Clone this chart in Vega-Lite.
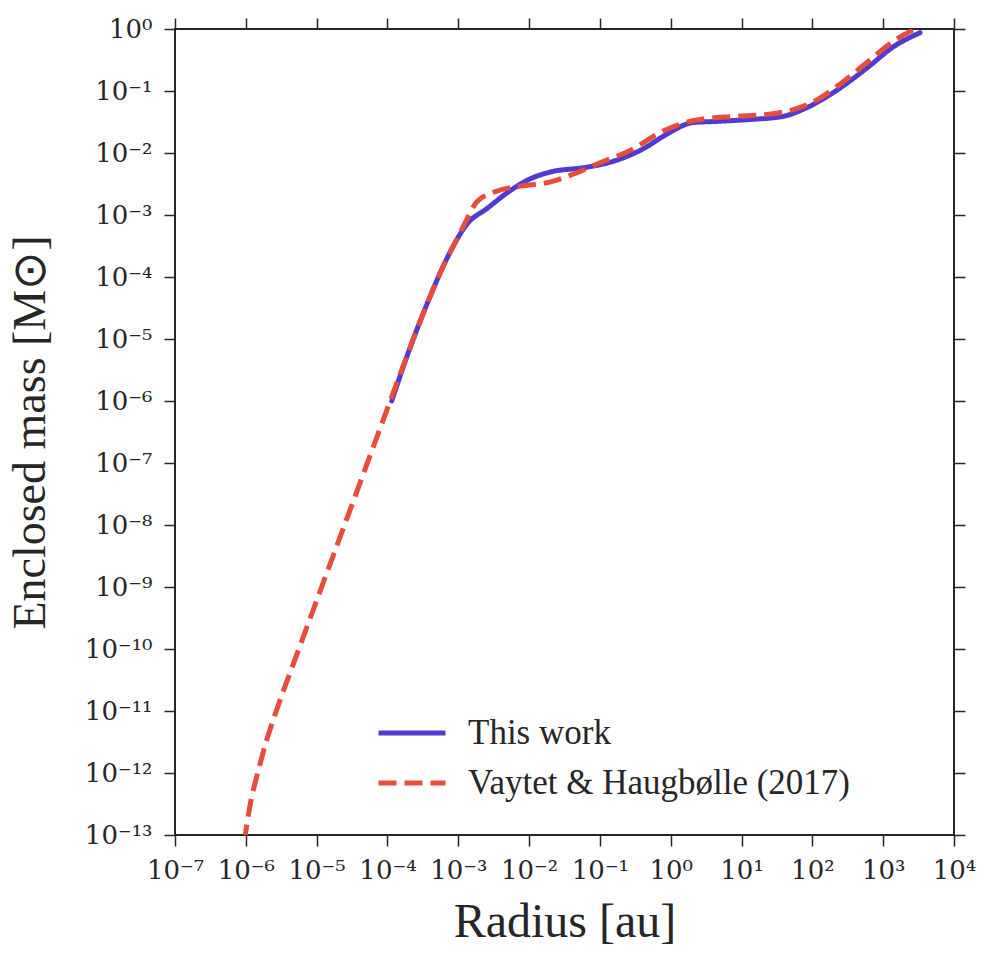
{
  "$schema": "https://vega.github.io/schema/vega-lite/v6.json",
  "width": 779,
  "height": 806,
  "autosize": "none",
  "padding": {"left": 175, "top": 29, "right": 42, "bottom": 127},
  "background": "white",
  "config": {
    "font": "Liberation Serif",
    "view": {"stroke": "#262626", "strokeWidth": 2},
    "axis": {
      "grid": false,
      "domain": false,
      "tickColor": "#262626",
      "tickWidth": 1.5,
      "tickSize": 11,
      "labelColor": "#262626",
      "titleColor": "#262626",
      "labelFont": "DejaVu Serif",
      "titleFont": "Liberation Serif",
      "labelFontSize": 26,
      "titleFontSize": 48,
      "titleFontWeight": "normal",
      "labelOverlap": false,
      "labelFlush": false,
      "labelBound": false
    }
  },
  "data": {
    "values": [
      {"series": "This work", "r": 1.148e-4, "m": 1e-6},
      {"series": "This work", "r": 2.042e-4, "m": 6.761e-6},
      {"series": "This work", "r": 3.981e-4, "m": 4.786e-5},
      {"series": "This work", "r": 6.166e-4, "m": 1.514e-4},
      {"series": "This work", "r": 8.511e-4, "m": 3.162e-4},
      {"series": "This work", "r": 1.318e-3, "m": 7.079e-4},
      {"series": "This work", "r": 2.512e-3, "m": 1.259e-3},
      {"series": "This work", "r": 5.370e-3, "m": 2.455e-3},
      {"series": "This work", "r": 1.023e-2, "m": 3.802e-3},
      {"series": "This work", "r": 1.950e-2, "m": 4.898e-3},
      {"series": "This work", "r": 6.457e-2, "m": 5.888e-3},
      {"series": "This work", "r": 1.380e-1, "m": 7.079e-3},
      {"series": "This work", "r": 3.981e-1, "m": 1.148e-2},
      {"series": "This work", "r": 8.710e-1, "m": 1.995e-2},
      {"series": "This work", "r": 2.042, "m": 3.090e-2},
      {"series": "This work", "r": 4.467, "m": 3.236e-2},
      {"series": "This work", "r": 12.88, "m": 3.467e-2},
      {"series": "This work", "r": 38.02, "m": 3.890e-2},
      {"series": "This work", "r": 83.18, "m": 5.370e-2},
      {"series": "This work", "r": 195.0, "m": 9.333e-2},
      {"series": "This work", "r": 588.8, "m": 0.2344},
      {"series": "This work", "r": 1380, "m": 0.5129},
      {"series": "This work", "r": 3311, "m": 0.8710},
      {"series": "Vaytet & Haugbølle (2017)", "r": 9.550e-7, "m": 7.586e-14},
      {"series": "Vaytet & Haugbølle (2017)", "r": 9.840e-7, "m": 1e-13},
      {"series": "Vaytet & Haugbølle (2017)", "r": 1.067e-6, "m": 1.849e-13},
      {"series": "Vaytet & Haugbølle (2017)", "r": 1.189e-6, "m": 3.690e-13},
      {"series": "Vaytet & Haugbølle (2017)", "r": 1.384e-6, "m": 7.709e-13},
      {"series": "Vaytet & Haugbølle (2017)", "r": 1.644e-6, "m": 1.622e-12},
      {"series": "Vaytet & Haugbølle (2017)", "r": 1.959e-6, "m": 3.311e-12},
      {"series": "Vaytet & Haugbølle (2017)", "r": 2.512e-6, "m": 7.943e-12},
      {"series": "Vaytet & Haugbølle (2017)", "r": 3.162e-6, "m": 1.698e-11},
      {"series": "Vaytet & Haugbølle (2017)", "r": 3.981e-6, "m": 3.467e-11},
      {"series": "Vaytet & Haugbølle (2017)", "r": 6.310e-6, "m": 1.445e-10},
      {"series": "Vaytet & Haugbølle (2017)", "r": 1e-5, "m": 6.026e-10},
      {"series": "Vaytet & Haugbølle (2017)", "r": 1.585e-5, "m": 2.512e-9},
      {"series": "Vaytet & Haugbølle (2017)", "r": 2.512e-5, "m": 1.047e-8},
      {"series": "Vaytet & Haugbølle (2017)", "r": 3.981e-5, "m": 4.365e-8},
      {"series": "Vaytet & Haugbølle (2017)", "r": 6.310e-5, "m": 1.820e-7},
      {"series": "Vaytet & Haugbølle (2017)", "r": 1e-4, "m": 7.586e-7},
      {"series": "Vaytet & Haugbølle (2017)", "r": 1.259e-4, "m": 1.549e-6},
      {"series": "Vaytet & Haugbølle (2017)", "r": 2.042e-4, "m": 6.761e-6},
      {"series": "Vaytet & Haugbølle (2017)", "r": 3.981e-4, "m": 4.786e-5},
      {"series": "Vaytet & Haugbølle (2017)", "r": 6.166e-4, "m": 1.514e-4},
      {"series": "Vaytet & Haugbølle (2017)", "r": 8.511e-4, "m": 3.162e-4},
      {"series": "Vaytet & Haugbølle (2017)", "r": 1.259e-3, "m": 7.586e-4},
      {"series": "Vaytet & Haugbølle (2017)", "r": 1.820e-3, "m": 1.622e-3},
      {"series": "Vaytet & Haugbølle (2017)", "r": 3.236e-3, "m": 2.344e-3},
      {"series": "Vaytet & Haugbølle (2017)", "r": 8.128e-3, "m": 2.951e-3},
      {"series": "Vaytet & Haugbølle (2017)", "r": 1.950e-2, "m": 3.388e-3},
      {"series": "Vaytet & Haugbølle (2017)", "r": 4.677e-2, "m": 4.786e-3},
      {"series": "Vaytet & Haugbølle (2017)", "r": 1.047e-1, "m": 7.079e-3},
      {"series": "Vaytet & Haugbølle (2017)", "r": 2.455e-1, "m": 1.047e-2},
      {"series": "Vaytet & Haugbølle (2017)", "r": 8.710e-1, "m": 2.399e-2},
      {"series": "Vaytet & Haugbølle (2017)", "r": 2.042, "m": 3.311e-2},
      {"series": "Vaytet & Haugbølle (2017)", "r": 7.586, "m": 3.890e-2},
      {"series": "Vaytet & Haugbølle (2017)", "r": 22.39, "m": 4.169e-2},
      {"series": "Vaytet & Haugbølle (2017)", "r": 53.70, "m": 5.012e-2},
      {"series": "Vaytet & Haugbølle (2017)", "r": 117.5, "m": 7.244e-2},
      {"series": "Vaytet & Haugbølle (2017)", "r": 245.5, "m": 0.1288},
      {"series": "Vaytet & Haugbølle (2017)", "r": 588.8, "m": 0.2884},
      {"series": "Vaytet & Haugbølle (2017)", "r": 1380, "m": 0.6310},
      {"series": "Vaytet & Haugbølle (2017)", "r": 2818, "m": 1.0}
    ]
  },
  "layer": [
    {
      "layer": [
        {
          "transform": [{"filter": "datum.series === 'This work'"}],
          "mark": {"type": "line", "strokeWidth": 5, "strokeCap": "round", "interpolate": "monotone", "clip": true},
          "encoding": {
            "x": {"field": "r", "type": "quantitative", "scale": {"type": "log", "domain": [1e-7, 1e4], "nice": false},
              "axis": {"orient": "bottom", "values": [1e-7, 1e-6, 1e-5, 1e-4, 1e-3, 1e-2, 1e-1, 1, 10, 100, 1000, 10000],
                "labelExpr": "'10' + (datum.value < 0.5 ? '⁻' : '') + (abs(round(log(datum.value)/LN10)) >= 10 ? '¹' : '') + substring('⁰¹²³⁴⁵⁶⁷⁸⁹', abs(round(log(datum.value)/LN10)) % 10, abs(round(log(datum.value)/LN10)) % 10 + 1)",
                "labelPadding": 11, "title": "Radius [au]", "titlePadding": 15}},
            "y": {"field": "m", "type": "quantitative", "scale": {"type": "log", "domain": [1e-13, 1], "nice": false},
              "axis": {"orient": "left", "values": [1e-13, 1e-12, 1e-11, 1e-10, 1e-9, 1e-8, 1e-7, 1e-6, 1e-5, 1e-4, 1e-3, 1e-2, 1e-1, 1],
                "labelExpr": "'10' + (datum.value < 0.5 ? '⁻' : '') + (abs(round(log(datum.value)/LN10)) >= 10 ? '¹' : '') + substring('⁰¹²³⁴⁵⁶⁷⁸⁹', abs(round(log(datum.value)/LN10)) % 10, abs(round(log(datum.value)/LN10)) % 10 + 1)",
                "labelPadding": 12, "title": "Enclosed mass [M⊙]", "titleFontSize": 46, "titlePadding": 30}},
            "color": {"field": "series", "type": "nominal",
              "scale": {"domain": ["This work", "Vaytet & Haugbølle (2017)"], "range": ["#5239d1", "#e84c3d"]},
              "legend": {"title": null, "orient": "none", "legendX": 201, "legendY": 684, "padding": 0, "labelFontSize": 35, "labelFont": "Liberation Serif", "labelColor": "#262626", "symbolType": "stroke", "symbolSize": 4489, "symbolStrokeWidth": 5, "labelLimit": 600, "clipHeight": 40, "rowPadding": 10, "labelOffset": 20}},
            "strokeDash": {"field": "series", "type": "nominal",
              "scale": {"domain": ["This work", "Vaytet & Haugbølle (2017)"], "range": [[1, 0], [18, 8]]},
              "legend": {"title": null, "orient": "none", "legendX": 201, "legendY": 684, "padding": 0, "labelFontSize": 35, "labelFont": "Liberation Serif", "labelColor": "#262626", "symbolType": "stroke", "symbolSize": 4489, "symbolStrokeWidth": 5, "labelLimit": 600, "clipHeight": 40, "rowPadding": 10, "labelOffset": 20}}
          }
        },
        {
          "transform": [{"filter": "datum.series !== 'This work'"}],
          "mark": {"type": "line", "strokeWidth": 5, "strokeCap": "butt", "interpolate": "monotone", "clip": true},
          "encoding": {
            "x": {"field": "r", "type": "quantitative", "scale": {"type": "log", "domain": [1e-7, 1e4], "nice": false}},
            "y": {"field": "m", "type": "quantitative", "scale": {"type": "log", "domain": [1e-13, 1], "nice": false}},
            "color": {"field": "series", "type": "nominal",
              "scale": {"domain": ["This work", "Vaytet & Haugbølle (2017)"], "range": ["#5239d1", "#e84c3d"]}},
            "strokeDash": {"field": "series", "type": "nominal",
              "scale": {"domain": ["This work", "Vaytet & Haugbølle (2017)"], "range": [[1, 0], [18, 8]]}}
          }
        }
      ]
    },
    {
      "transform": [{"filter": "datum.series === 'This work'"}],
      "mark": {"type": "line", "opacity": 0, "clip": true},
      "encoding": {
        "x": {"field": "r", "type": "quantitative", "scale": {"type": "log", "domain": [1e-7, 1e4], "nice": false},
          "axis": {"orient": "top", "values": [1e-7, 1e-6, 1e-5, 1e-4, 1e-3, 1e-2, 1e-1, 1, 10, 100, 1000, 10000], "labels": false, "title": null}},
        "y": {"field": "m", "type": "quantitative", "scale": {"type": "log", "domain": [1e-13, 1], "nice": false},
          "axis": {"orient": "right", "values": [1e-13, 1e-12, 1e-11, 1e-10, 1e-9, 1e-8, 1e-7, 1e-6, 1e-5, 1e-4, 1e-3, 1e-2, 1e-1, 1], "labels": false, "title": null}}
      }
    }
  ],
  "resolve": {"axis": {"x": "independent", "y": "independent"}}
}
